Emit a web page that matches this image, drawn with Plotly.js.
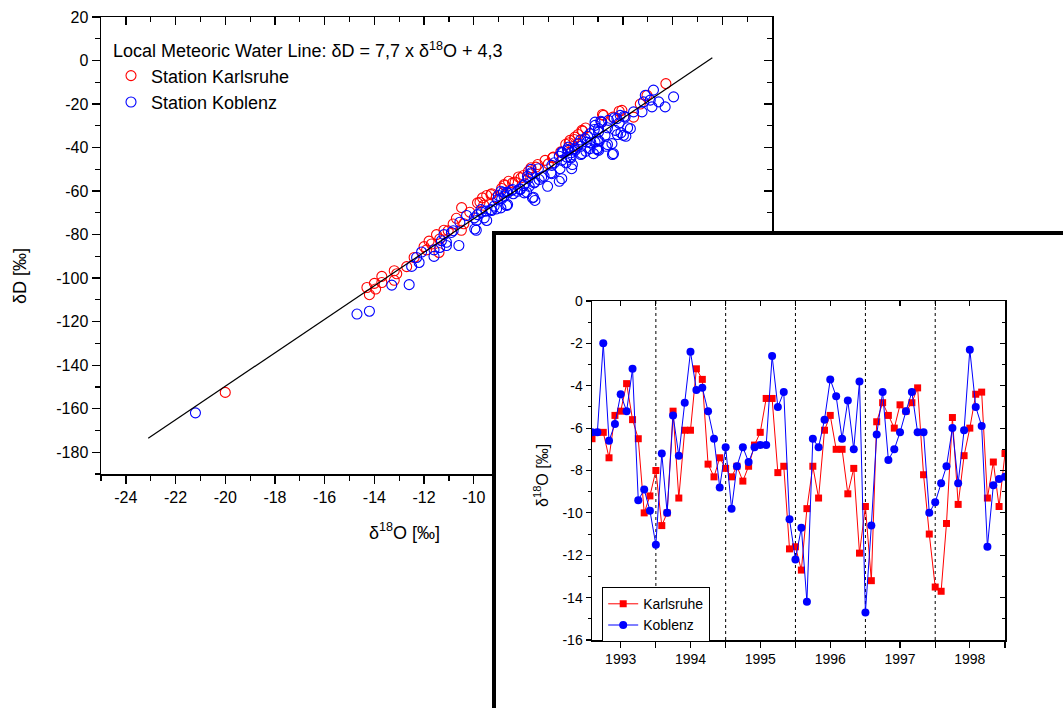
<!DOCTYPE html>
<html>
<head>
<meta charset="utf-8">
<script src="https://cdn.plot.ly/plotly-3.0.1.min.js"></script>
<style>html,body{margin:0;padding:0;background:#fff}#chart{width:1063px;height:708px}</style>
</head>
<body>
<div id="chart"></div>
<script>
// ---------- Scatter data (main plot): delta18O vs deltaD ----------
const karlsruheD18O = [-20.0,-14.3,-14.2,-14.0,-13.95,-13.7,-13.7,-13.2,-13.2,-13.1,-12.7,-12.4,-12.0,-11.9,-11.7,-11.4,-11.5,-11.2,-10.5,-10.4,-11.8,-11.37,-11.03,-10.83,-10.16,-10.49,-9.75,-9.48,-9.28,-9.1,-8.88,-8.75,-8.6,-8.34,-8.2,-8.0,-7.8,-7.5,-7.13,-6.8,-6.5,-6.3,-6.13,-5.93,-5.8,-5.65,-5.5,-4.85,-4.78,-4.4,-4.04,-3.57,-3.3,-3.03,-2.27,-10.7,-9.6,-7.0,-6.0,
  -4.82,-4.15,-5.62,-5.96,-6.16,-6.83,-7.43,-7.70,-8.10,-8.44,-8.78,-9.31,-9.65,-9.85];
const karlsruheDD   = [-152.5,-104.3,-107.6,-102.4,-105.0,-99.2,-102.0,-96.6,-101.0,-98.0,-94.7,-90.5,-85.5,-87.0,-84.3,-88.2,-80.0,-78.0,-78.0,-75.0,-83.0,-82.0,-78.2,-75.1,-69.7,-67.6,-65.1,-62.0,-61.2,-63.0,-58.8,-57.4,-55.5,-55.9,-53.5,-52.8,-51.0,-49.0,-45.9,-44.4,-42.0,-38.5,-36.7,-35.2,-34.0,-32.1,-31.0,-28.3,-25.2,-26.0,-22.9,-26.0,-20.0,-16.0,-10.6,-72.5,-66.5,-47.5,-39.5,
  -24.8,-23.3,-32.5,-36.3,-37.8,-44.7,-47.8,-49.3,-53.9,-56.2,-57.0,-61.6,-63.1,-65.4];

const koblenzD18O = [-21.2,-14.7,-14.2,-13.3,-12.6,-12.5,-12.3,-12.2,-12.1,-11.6,-11.6,-11.3,-11.2,-11.1,-11.37,-11.1,-10.9,-10.6,-10.83,-10.56,-10.29,-9.96,-9.89,-9.69,-9.48,-9.28,-9.08,-9.9,-9.01,-8.88,-8.81,-8.68,-8.68,-8.48,-8.41,-8.14,-8.0,-7.94,-7.87,-7.81,-7.67,-7.7,-7.6,-7.54,-7.54,-7.4,-7.27,-6.86,-6.86,-6.53,-6.46,-6.46,-6.46,-6.26,-6.19,-6.19,-6.13,-6.06,-5.93,-5.93,-5.79,-5.7,-5.65,-5.52,-5.45,-5.32,-5.32,-5.18,-5.12,-5.12,-5.12,-5.05,-4.98,-4.98,-4.98,-4.85,-4.72,-4.58,-4.44,-4.38,-4.31,-4.24,-4.11,-3.98,-3.91,-3.7,-3.57,-3.23,-3.17,-3.1,-2.9,-2.83,-2.77,-2.56,-2.3,-1.96,
  -4.89,-4.62,-4.35,-4.15,-3.95,-3.81,-4.08,-3.88,-4.22,-5.15,-5.02,-5.29,-5.42,-5.69,-6.09,-6.23,-6.43,-6.56,-6.29,-6.03,-6.09,-5.69,-5.49,-5.02,-4.68,-4.42,-4.95,-4.62,-6.76,-6.90,-7.03,-6.56,-7.17,-7.37,-7.57,-7.70,-7.84,-7.77,-7.64,-7.97,-8.13,-8.24,-8.44,-8.64,-8.78,-8.91,-9.04,-8.64,-8.91,-9.18,-9.31,-9.51,-9.71,-9.85,-9.98,-9.58];
const koblenzDD   = [-161.9,-116.5,-115.2,-103.2,-103.0,-94.6,-90.5,-92.8,-88.0,-90.0,-87.0,-82.8,-80.0,-85.0,-85.9,-83.5,-79.0,-85.0,-78.2,-74.3,-71.2,-77.4,-73.5,-69.7,-73.5,-68.9,-68.2,-78.0,-62.0,-63.6,-60.5,-60.5,-66.6,-59.7,-61.2,-59.0,-57.5,-56.6,-60.5,-54.3,-52.0,-50.0,-62.8,-64.3,-55.9,-49.7,-53.6,-48.2,-52.0,-49.7,-42.1,-45.9,-54.3,-44.4,-39.8,-41.3,-44.4,-49.7,-41.3,-40.5,-38.2,-36.5,-42.8,-35.9,-37.5,-40.5,-33.6,-42.8,-28.3,-29.8,-37.5,-40.5,-31.3,-32.9,-41.3,-28.3,-34.4,-27.5,-38.2,-42.8,-32.1,-26.7,-25.2,-34.4,-26.0,-31.3,-23.6,-23.6,-19.0,-16.0,-18.2,-21.3,-13.6,-19.0,-21.3,-16.7,
  -27.9,-30.9,-26.4,-28.7,-25.6,-30.9,-33.2,-34.8,-34.0,-31.7,-36.3,-37.8,-34.8,-39.4,-42.4,-40.9,-42.4,-44.0,-47.0,-47.8,-44.7,-43.2,-41.7,-40.9,-39.4,-43.2,-37.1,-38.6,-47.0,-51.6,-57.8,-55.5,-53.2,-54.7,-56.2,-51.6,-53.2,-57.8,-63.1,-60.8,-59.3,-60.1,-59.3,-60.8,-62.4,-60.1,-63.9,-66.2,-67.7,-66.9,-68.5,-69.2,-68.5,-70.8,-72.3,-72.3];

// Local Meteoric Water Line: dD = 7.7 * d18O + 4.3
const lmwlSlope = 7.7;
const lmwlIntercept = 4.3;
const lmwlX = [-23.1, -0.4];

// ---------- Time series (inset): monthly delta18O, Feb 1993 - Jan 1999 ----------
const seriesStart = {year: 1993, month: 2};
const karlsruheMonthly = [-6.5,-6.2,-6.2,-7.4,-5.4,-5.2,-3.9,-5.6,-6.5,-10.0,-9.2,-8.0,-10.6,-10.0,-5.2,-9.3,-6.1,-6.1,-3.2,-3.7,-7.7,-8.3,-7.4,-7.9,-8.3,-7.8,-8.5,-7.8,-6.8,-6.2,-4.6,-4.6,-8.1,-7.8,-11.7,-11.6,-12.7,-9.8,-7.8,-9.3,-6.1,-5.4,-7.0,-7.0,-9.1,-7.9,-11.9,-9.7,-13.2,-5.7,-4.8,-5.4,-6.0,-4.9,-5.2,-4.8,-4.1,-8.2,-11.0,-13.5,-13.7,-10.5,-5.5,-9.6,-7.3,-6.0,-4.4,-4.3,-9.3,-7.6,-9.7,-7.2];
const koblenzMonthly   = [-6.2,-6.2,-2.0,-6.6,-5.8,-4.4,-5.2,-3.2,-9.4,-8.9,-9.9,-11.5,-7.2,-10.0,-5.4,-7.3,-4.8,-2.4,-4.2,-4.1,-5.2,-6.5,-8.8,-6.9,-9.8,-7.8,-6.9,-7.6,-6.9,-6.8,-6.8,-2.6,-5.0,-4.3,-10.3,-12.2,-10.7,-14.2,-6.5,-6.9,-5.6,-3.7,-4.5,-6.5,-4.7,-7.0,-3.8,-14.7,-10.6,-6.3,-4.3,-7.5,-7.0,-6.2,-5.2,-4.3,-6.2,-6.2,-10.0,-9.5,-8.6,-7.8,-6.0,-8.6,-6.1,-2.3,-5.0,-5.9,-11.6,-8.7,-8.4,-8.3];
const yearLabels = ['1993','1994','1995','1996','1997','1998'];
const yearBoundaries = ['1994-01-01','1995-01-01','1996-01-01','1997-01-01','1998-01-01'];
const insetRange = ['1993-02-01','1999-01-01'];

// tick labels
const mainXTickVals = [-24,-22,-20,-18,-16,-14,-12,-10,-8,-6,-4,-2,0,2];
const mainXTickText = ['-24','-22','-20','-18','-16','-14','-12','-10','-8','-6','-4','-2','0','2'];
const mainYTickVals = [20,0,-20,-40,-60,-80,-100,-120,-140,-160,-180];
const mainYTickText = ['20','0','-20','-40','-60','-80','-100','-120','-140','-160','-180'];
const insetYTickVals = [0,-2,-4,-6,-8,-10,-12,-14,-16];
const insetYTickText = ['0','-2','-4','-6','-8','-10','-12','-14','-16'];

// ---------- build ----------
const pad = n => (n < 10 ? '0' : '') + n;
const monthDates = karlsruheMonthly.map((_, i) => {
  const m0 = seriesStart.month - 1 + i;
  return (seriesStart.year + Math.floor(m0 / 12)) + '-' + pad(m0 % 12 + 1) + '-01';
});
const midYearTicks = yearLabels.map(y => y + '-07-01');
const yearStartTicks = yearLabels.map(y => (+y + 1) + '-01-01');

const FONT = 'Liberation Sans, Arial, Helvetica, sans-serif';
const W = 1063, H = 708;
const px = v => v / W, py = v => 1 - v / H;

const mainXDom = [px(101), px(772)];
const mainYDom = [py(474), py(17)];
const mainXRange = [-25, 2];
const mainYRange = [-190, 20];
const boxXDom = [px(492), 1];
const boxYDom = [0, py(231)];
const insXDom = [px(592), px(1005)];
const insYDom = [py(640), py(301)];
const insYRange = [-16, 0];

const traces = [
  {type:'scatter', mode:'markers', name:'Station Karlsruhe', x:karlsruheD18O, y:karlsruheDD,
   marker:{symbol:'circle-open', size:10, color:'#ff0000', line:{width:1.1, color:'#ff0000'}},
   xaxis:'x', yaxis:'y', legend:'legend'},
  {type:'scatter', mode:'markers', name:'Station Koblenz', x:koblenzD18O, y:koblenzDD,
   marker:{symbol:'circle-open', size:10, color:'#0000ff', line:{width:1.1, color:'#0000ff'}},
   xaxis:'x', yaxis:'y', legend:'legend'},
  {type:'scatter', mode:'lines', name:'LMWL', x:lmwlX, y:lmwlX.map(v => lmwlSlope * v + lmwlIntercept),
   line:{color:'#000', width:1.2}, showlegend:false, xaxis:'x', yaxis:'y'},
  // helper subplots (mirror axes with inside ticks, white inset box)
  {type:'scatter', x:[], y:[], xaxis:'x', yaxis:'y2', showlegend:false},
  {type:'scatter', x:[], y:[], xaxis:'x2', yaxis:'y', showlegend:false},
  {type:'scatter', x:[], y:[], xaxis:'x3', yaxis:'y3', showlegend:false},
  // inset series
  {type:'scatter', mode:'lines+markers', name:'Karlsruhe', x:monthDates, y:karlsruheMonthly,
   line:{color:'#ff0000', width:1}, marker:{symbol:'square', size:7, color:'#ff0000'},
   xaxis:'x4', yaxis:'y4', legend:'legend2'},
  {type:'scatter', mode:'lines+markers', name:'Koblenz', x:monthDates, y:koblenzMonthly,
   line:{color:'#0000ff', width:1}, marker:{symbol:'circle', size:8, color:'#0000ff'},
   xaxis:'x4', yaxis:'y4', legend:'legend2'},
  {type:'scatter', x:[], y:[], xaxis:'x4', yaxis:'y5', showlegend:false},
  {type:'scatter', x:[], y:[], xaxis:'x5', yaxis:'y4', showlegend:false}
];

const tickFontMain = {family:FONT, size:16, color:'#000'};
const tickFontIns = {family:FONT, size:14, color:'#000'};

const shapes = [
  {type:'rect', xref:'x3', yref:'y3', x0:0, x1:1.2, y0:-0.2, y1:1, layer:'below',
   fillcolor:'#ffffff', line:{color:'#000', width:8}}
];
yearBoundaries.forEach(d => shapes.push({
  type:'line', xref:'x4', yref:'y4', x0:d, x1:d, y0:insYRange[0], y1:insYRange[1], layer:'below',
  line:{color:'#000', width:1, dash:'dot'}
}));

const layout = {
  width:W, height:H,
  margin:{l:0, r:0, t:0, b:0, pad:0},
  paper_bgcolor:'#ffffff',
  plot_bgcolor:'rgba(0,0,0,0)',
  font:{family:FONT, color:'#000'},
  showlegend:true,
  xaxis:{domain:mainXDom, anchor:'y', range:mainXRange, tickmode:'array', tickvals:mainXTickVals, ticktext:mainXTickText,
    ticks:'outside', ticklen:8, tickwidth:1.3, tickcolor:'#000', tickfont:tickFontMain,
    minor:{dtick:1, tick0:0, ticks:'outside', ticklen:5, tickwidth:1.2, tickcolor:'#000', showgrid:false},
    showline:true, linecolor:'#000', linewidth:1.5, mirror:true, showgrid:false, zeroline:false},
  yaxis:{domain:mainYDom, anchor:'x', range:mainYRange, tickmode:'array', tickvals:mainYTickVals, ticktext:mainYTickText,
    ticks:'outside', ticklen:8, tickwidth:1.3, tickcolor:'#000', tickfont:tickFontMain,
    minor:{dtick:10, tick0:0, ticks:'outside', ticklen:5, tickwidth:1.2, tickcolor:'#000', showgrid:false},
    showline:true, linecolor:'#000', linewidth:1.5, mirror:true, showgrid:false, zeroline:false},
  xaxis2:{domain:mainXDom, anchor:'y', side:'top', range:mainXRange, tickmode:'array', tickvals:mainXTickVals,
    showticklabels:false, ticks:'inside', ticklen:8, tickwidth:1.3, tickcolor:'#000',
    minor:{dtick:1, tick0:0, ticks:'inside', ticklen:5, tickwidth:1.2, tickcolor:'#000', showgrid:false},
    showline:false, showgrid:false, zeroline:false},
  yaxis2:{domain:mainYDom, anchor:'x', side:'right', range:mainYRange, tickmode:'array', tickvals:mainYTickVals,
    showticklabels:false, ticks:'inside', ticklen:8, tickwidth:1.3, tickcolor:'#000',
    minor:{dtick:10, tick0:0, ticks:'inside', ticklen:5, tickwidth:1.2, tickcolor:'#000', showgrid:false},
    showline:false, showgrid:false, zeroline:false},
  xaxis3:{domain:boxXDom, anchor:'y3', range:[0,1], visible:false, fixedrange:true},
  yaxis3:{domain:boxYDom, anchor:'x3', range:[0,1], visible:false, fixedrange:true},
  xaxis4:{domain:insXDom, anchor:'y4', type:'date', range:insetRange, tickmode:'array', tickvals:midYearTicks, ticktext:yearLabels,
    ticks:'outside', ticklen:6, tickwidth:1.2, tickcolor:'#000', tickfont:tickFontIns,
    minor:{tickmode:'array', tickvals:yearStartTicks, ticks:'outside', ticklen:6, tickwidth:1.2, tickcolor:'#000', showgrid:false},
    showline:true, linecolor:'#000', linewidth:1.5, mirror:true, showgrid:false, zeroline:false},
  yaxis4:{domain:insYDom, anchor:'x4', range:insYRange, tickmode:'array', tickvals:insetYTickVals, ticktext:insetYTickText,
    ticks:'outside', ticklen:5, tickwidth:1.2, tickcolor:'#000', tickfont:tickFontIns,
    minor:{dtick:1, tick0:0, ticks:'outside', ticklen:3, tickwidth:1, tickcolor:'#000', showgrid:false},
    showline:true, linecolor:'#000', linewidth:1.5, mirror:true, showgrid:false, zeroline:false},
  xaxis5:{domain:insXDom, anchor:'y4', side:'top', type:'date', range:insetRange, tickmode:'array', tickvals:midYearTicks,
    showticklabels:false, ticks:'inside', ticklen:5, tickwidth:1.2, tickcolor:'#000',
    minor:{tickmode:'array', tickvals:yearStartTicks, ticks:'inside', ticklen:5, tickwidth:1.2, tickcolor:'#000', showgrid:false},
    showline:false, showgrid:false, zeroline:false},
  yaxis5:{domain:insYDom, anchor:'x4', side:'right', range:insYRange, tickmode:'array', tickvals:insetYTickVals,
    showticklabels:false, ticks:'inside', ticklen:5, tickwidth:1.2, tickcolor:'#000',
    minor:{dtick:1, tick0:0, ticks:'inside', ticklen:3, tickwidth:1, tickcolor:'#000', showgrid:false},
    showline:false, showgrid:false, zeroline:false},
  legend:{x:px(111), y:py(34), xanchor:'left', yanchor:'top', bgcolor:'rgba(0,0,0,0)', borderwidth:0,
    font:{family:FONT, size:18, color:'#000'},
    title:{text:'Local Meteoric Water Line: δD = 7,7 x δ<sup>18</sup>O + 4,3', side:'top', font:{family:FONT, size:18, color:'#000'}},
    tracegroupgap:0, itemclick:false},
  legend2:{x:px(602), y:py(587), xanchor:'left', yanchor:'top', bgcolor:'#ffffff', bordercolor:'#000', borderwidth:1.2,
    font:{family:FONT, size:14, color:'#000'}, tracegroupgap:0, itemclick:false},
  shapes:shapes,
  annotations:[
    {xref:'paper', yref:'paper', x:px(404), y:py(531), text:'δ<sup>18</sup>O [‰]', showarrow:false,
     font:{family:FONT, size:18, color:'#000'}, xanchor:'center', yanchor:'middle'},
    {xref:'paper', yref:'paper', x:px(20), y:py(276), text:'δD [‰]', showarrow:false, textangle:-90,
     font:{family:FONT, size:18, color:'#000'}, xanchor:'center', yanchor:'middle'},
    {xref:'paper', yref:'paper', x:px(541), y:py(476), text:'δ<sup>18</sup>O [‰]', showarrow:false, textangle:-90,
     font:{family:FONT, size:16, color:'#000'}, xanchor:'center', yanchor:'middle'}
  ]
};

Plotly.newPlot('chart', traces, layout, {displayModeBar:false, staticPlot:true});
</script>
</body>
</html>
